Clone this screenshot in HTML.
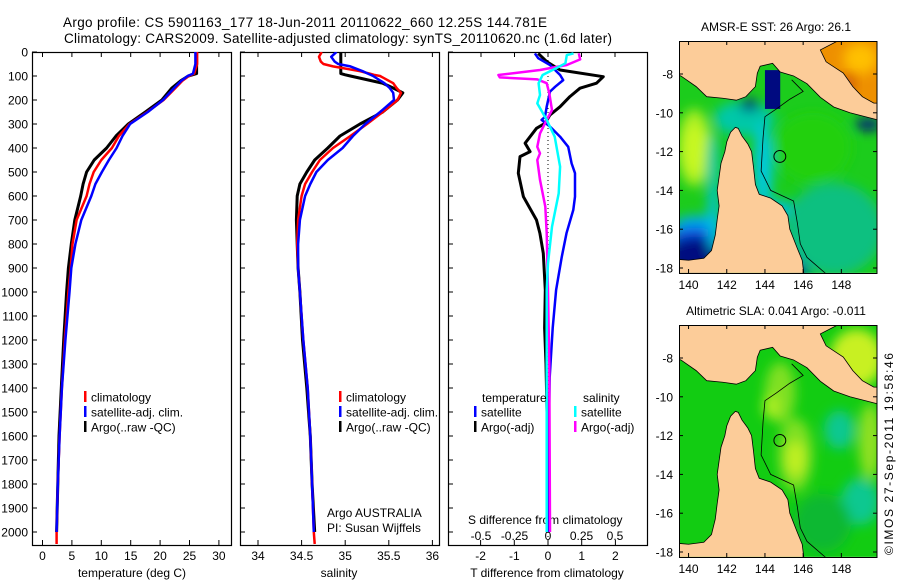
<!DOCTYPE html>
<html><head><meta charset="utf-8">
<style>
html,body{margin:0;padding:0;background:#fff;}
svg{display:block;font-family:"Liberation Sans",sans-serif;}
text{font-size:12px;fill:#000;}
</style></head>
<body>
<svg id="fig" width="900" height="580" viewBox="0 0 900 580" xmlns="http://www.w3.org/2000/svg">
<defs>
  <filter id="blur" x="-50%" y="-50%" width="200%" height="200%"><feGaussianBlur stdDeviation="0.3"/></filter>
  <clipPath id="mapclip" clipPathUnits="userSpaceOnUse"><rect x="139.5" y="-18.25" width="10.37" height="11.95"/></clipPath>
  <clipPath id="p1clip"><rect x="32" y="52" width="199" height="493"/></clipPath>
  <clipPath id="p2clip"><rect x="240" y="52" width="199" height="493"/></clipPath>
  <clipPath id="p3clip"><rect x="448" y="52" width="200" height="493"/></clipPath>
</defs>
<rect width="900" height="580" fill="#fff"/>
<text x="63" y="27" textLength="484" style="font-size:13.5px">Argo profile: CS 5901163_177 18-Jun-2011 20110622_660 12.25S 144.781E</text>
<text x="64" y="43" textLength="548" style="font-size:13.5px">Climatology: CARS2009. Satellite-adjusted climatology: synTS_20110620.nc (1.6d later)</text>

<g id="panels"></g>
<g id="maps"></g>
<text transform="translate(893,555) rotate(-90)" textLength="202">©IMOS 27-Sep-2011 19:58:46</text>
</svg>
<script>
// ---- profile data ----
const tDepth = [0,50,90,100,120,150,200,250,300,350,400,450,500,550,600,700,800,900,1000,1200,1400,1600,1800,2000,2050];
const tClim  = [26.3,26.3,25.8,24.9,23.8,22.6,20.6,17.8,14.8,13.0,11.8,10.0,8.7,8.0,7.5,5.8,5.1,4.8,4.4,3.8,3.3,2.9,2.6,2.4,2.4];
const tSat   = [26.0,26.0,25.6,24.7,23.6,22.4,20.5,17.9,14.9,13.6,12.6,11.3,10.1,9.0,8.3,6.6,5.6,4.9,4.6,3.9,3.3,2.9,2.6,2.4,null];
const tArgo  = [26.2,26.2,26.2,24.8,23.5,22.0,20.3,17.5,14.6,12.5,10.9,8.8,7.5,6.9,6.5,5.5,4.9,4.4,4.1,3.6,3.2,2.8,2.6,2.4,null];

const sDepth = [0,20,40,50,60,80,90,95,100,130,150,170,200,250,300,350,400,450,500,550,600,700,800,900,1000,1200,1400,1600,1800,2000,2050];
const sClim  = [34.73,34.70,34.72,34.75,34.86,35.17,35.28,35.33,35.40,35.55,35.59,35.64,35.60,35.43,35.25,35.06,34.86,34.71,34.62,34.54,34.50,34.46,34.45,34.46,34.48,34.52,34.57,34.60,34.62,34.64,34.65];
const sSat   = [34.90,34.84,34.88,34.92,35.06,35.20,35.26,35.29,35.32,35.45,35.51,35.55,35.56,35.40,35.23,35.09,34.97,34.80,34.67,34.60,34.54,34.48,34.46,34.46,34.48,34.52,34.57,34.60,34.62,34.64,null];
const sArgo  = [34.95,34.95,34.95,34.95,34.95,34.95,34.95,35.00,35.06,35.43,35.55,35.66,35.60,35.43,35.17,34.94,34.80,34.65,34.56,34.48,34.45,34.44,34.45,34.46,34.48,34.51,34.56,34.60,34.62,34.65,null];

const dtArgoDepth = [6,40,75,103,130,151,186,228,262,297,318,380,415,436,505,603,700,755,839,992,1150,1300,1500,1800,2000];
const dtArgo      = [-0.29,-0.04,0.36,1.64,1.44,0.95,0.65,0.36,0.06,-0.09,-0.34,-0.68,-0.53,-0.83,-0.88,-0.73,-0.34,-0.24,-0.14,-0.08,-0.1,-0.06,-0.03,-0.02,-0.02];
const dtSatDepth  = [6,26,54,96,117,145,165,228,270,283,311,353,395,464,505,603,658,755,853,936,992,1150,1354,1600,2000];
const dtSat       = [-0.39,-0.29,0.06,0.36,0.45,0.21,0.06,-0.04,-0.09,-0.19,0.06,0.36,0.6,0.7,0.8,0.8,0.75,0.55,0.41,0.31,0.24,0.14,0.05,0.02,0.02];
const dsArgoDepth = [6,31,54,75,96,106,114,130,172,242,283,339,395,422,450,533,644,755,992,1300,2000];
const dsArgo      = [0.23,0.24,0.14,-0.06,-0.37,-0.36,-0.08,-0.01,0.01,0.03,-0.01,-0.06,-0.08,-0.06,-0.08,-0.06,-0.02,-0.01,0.0,0.01,0.015];
const dsSatDepth  = [6,13,47,68,96,130,179,214,283,353,478,589,728,880,992,1300,2000];
const dsSat       = [0.19,0.14,0.13,0.06,-0.04,-0.07,-0.06,-0.08,-0.01,0.05,0.09,0.08,0.03,0.0,-0.01,-0.01,-0.01];

const depthTicks = [0,100,200,300,400,500,600,700,800,900,1000,1100,1200,1300,1400,1500,1600,1700,1800,1900,2000];
const tTicks = [0,5,10,15,20,25,30];
const sTicks = [34,34.5,35,35.5,36];
const sTickLabels = ["34","34.5","35","35.5","36"];
const tdTicks = [-2,-1,0,1,2];
const sdTicks = [-0.5,-0.25,0,0.25,0.5];
const sdTickLabels = ["-0.5","-0.25","0","0.25","0.5"];

// axis functions
const yD  = d => 52 + d*0.24;
const xT  = t => 42.5 + t*5.88;
const xS  = s => 258 + (s-34)*87.2;
const xTd = v => 548 + v*33.7;
const xSd = v => 548 + v*134;

const NS = "http://www.w3.org/2000/svg";
function mk(tag, attrs, parent){const e=document.createElementNS(NS,tag);for(const k in attrs)e.setAttribute(k,attrs[k]);parent.appendChild(e);return e;}
function txt(parent,x,y,s,anchor,size){const e=mk('text',{x:x,y:y,'text-anchor':anchor||'start'},parent);if(size)e.style.fontSize=size+'px';e.textContent=s;return e;}
const panels=document.getElementById('panels');

function line(parent, depths, vals, xf, color, w, name, clip){
  let d='';let started=false;
  for(let i=0;i<depths.length;i++){ if(vals[i]===null) continue;
    d+=(started?'L':'M')+xf(vals[i]).toFixed(1)+' '+yD(depths[i]).toFixed(1)+' '; started=true;}
  const p=mk('path',{d:d,fill:'none',stroke:color,'stroke-width':w,'stroke-linejoin':'round','clip-path':'url(#'+clip+')'},parent);
  
  
}
function frame(x0,x1,name){
  const r=mk('rect',{x:x0+0.5,y:52.5,width:x1-x0,height:493,fill:'none',stroke:'#000','stroke-width':1.2},panels);
  
  
}
frame(32,231,'temperature-panel-frame');
frame(240,439,'salinity-panel-frame');
frame(448,647,'difference-panel-frame');

depthTicks.forEach(d=>{
  const y=yD(d);
  [32,240,448].forEach(x0=>mk('line',{x1:x0,y1:y,x2:x0+5,y2:y,stroke:'#000'},panels));
  const t=txt(panels,28,y+4.5,String(d),'end');
  
  
});
tTicks.forEach(v=>{const x=xT(v);mk('line',{x1:x,y1:545,x2:x,y2:540,stroke:'#000'},panels);mk('line',{x1:x,y1:52,x2:x,y2:57,stroke:'#000'},panels);
  const t=txt(panels,x,560,String(v),'middle');});
sTicks.forEach((v,i)=>{const x=xS(v);mk('line',{x1:x,y1:545,x2:x,y2:540,stroke:'#000'},panels);mk('line',{x1:x,y1:52,x2:x,y2:57,stroke:'#000'},panels);
  const t=txt(panels,x,560,sTickLabels[i],'middle');});
tdTicks.forEach(v=>{const x=xTd(v);mk('line',{x1:x,y1:545,x2:x,y2:540,stroke:'#000'},panels);
  const t=txt(panels,x,560,String(v),'middle');});
sdTicks.forEach((v,i)=>{const x=xSd(v);mk('line',{x1:x,y1:52,x2:x,y2:57,stroke:'#000'},panels);
  const t=txt(panels,x,540,sdTickLabels[i],'middle');});

let at;
at=txt(panels,132,577,'temperature (deg C)','middle');
at=txt(panels,339,577,'salinity','middle');
at=txt(panels,547,577,'T difference from climatology','middle');
at=txt(panels,468,524,'S difference from climatology','start');

const zl=mk('line',{x1:548,y1:52,x2:548,y2:545,stroke:'#000','stroke-dasharray':'1,3'},panels);



line(panels,tDepth,tArgo,xT,'#000',3,'temperature-argo-line','p1clip');
line(panels,tDepth,tClim,xT,'#f00',2.5,'temperature-climatology-line','p1clip');
line(panels,tDepth,tSat,xT,'#00f',2.5,'temperature-satellite-line','p1clip');
line(panels,sDepth,sArgo,xS,'#000',3,'salinity-argo-line','p2clip');
line(panels,sDepth,sClim,xS,'#f00',2.5,'salinity-climatology-line','p2clip');
line(panels,sDepth,sSat,xS,'#00f',2.5,'salinity-satellite-line','p2clip');
line(panels,dtArgoDepth,dtArgo,xTd,'#000',3,'t-diff-argo-line','p3clip');
line(panels,dtSatDepth,dtSat,xTd,'#00f',2.5,'t-diff-satellite-line','p3clip');
line(panels,dsArgoDepth,dsArgo,xSd,'#f0f',2.5,'s-diff-argo-line','p3clip');
line(panels,dsSatDepth,dsSat,xSd,'#0ff',2.5,'s-diff-satellite-line','p3clip');

function legend(x,y,color,label,name){
  const g=mk('g',{},panels);
  
  
  mk('rect',{x:x,y:y-6,width:2.5,height:11,fill:color},g);
  txt(g,x+7,y+4.5,label,'start');
}
legend(84,397,'#f00','climatology','legend-climatology');
legend(84,412,'#00f','satellite-adj. clim.','legend-satellite-adj');
legend(84,427,'#000','Argo(..raw -QC)','legend-argo');
legend(339,397,'#f00','climatology','legend-climatology-sal');
legend(339,412,'#00f','satellite-adj. clim.','legend-satellite-adj-sal');
legend(339,427,'#000','Argo(..raw -QC)','legend-argo-sal');
at=txt(panels,482,402,'temperature','start');
at=txt(panels,583,402,'salinity','start');
legend(474,412,'#00f','satellite','legend-t-satellite');
legend(474,427,'#000','Argo(-adj)','legend-t-argo');
legend(574,412,'#0ff','satellite','legend-s-satellite');
legend(574,427,'#f0f','Argo(-adj)','legend-s-argo');
at=txt(panels,327,517,'Argo AUSTRALIA','start');
at=txt(panels,327,532,'PI: Susan Wijffels','start');

// ---- maps ----
const maps=document.getElementById('maps');
const landPts=[[139.4,-17.55],[140.0,-17.6],[140.8,-17.5],[141.2,-17.1],[141.4,-16.3],[141.5,-15.5],[141.6,-14.8],[141.5,-14.0],[141.6,-13.3],[141.7,-12.6],[141.9,-12.0],[142.0,-11.5],[142.2,-11.0],[142.45,-10.75],[142.6,-10.8],[142.8,-11.2],[143.1,-11.6],[143.3,-12.0],[143.4,-12.8],[143.5,-13.7],[143.7,-14.2],[144.3,-14.4],[144.9,-14.8],[145.2,-15.3],[145.3,-16.0],[145.7,-17.0],[145.95,-17.6],[146.05,-18.4],[139.4,-18.4]];
const pngPts=[[139.4,-6.2],[148.0,-6.2],[146.9,-6.76],[147.2,-7.37],[148.1,-7.95],[148.6,-8.65],[149.1,-9.17],[149.7,-9.5],[150,-9.5],[150,-10.35],[149.85,-10.35],[148.45,-10.0],[147.6,-9.7],[146.9,-9.2],[146.2,-8.5],[145.5,-8.1],[144.8,-7.9],[144.4,-7.45],[143.75,-7.6],[143.6,-7.96],[143.5,-8.65],[143.0,-9.17],[142.5,-9.35],[141.8,-9.25],[140.95,-9.17],[140.4,-8.65],[139.6,-8.1],[139.4,-8.05]];
const solomonPts=[[148.0,-6.2],[146.9,-6.76],[147.2,-7.37],[148.1,-7.95],[148.6,-8.65],[149.1,-9.17],[149.7,-9.5],[150,-9.5],[150,-6.2]];
const isoPts=[[145.4,-8.3],[146.0,-8.9],[145.3,-9.3],[144.6,-9.8],[144.0,-10.2],[143.9,-11.3],[143.8,-13.0],[144.3,-14.0],[145.5,-14.55],[145.7,-15.7],[145.85,-16.75],[146.2,-17.45],[147.2,-18.3]];
const pts=a=>a.map(p=>p[0]+','+p[1]).join(' ');

const sstBlobs=[[140.3,-11.8,0.9,2.0,'#a8ee20'],[140.3,-11.9,0.55,1.3,'#c8f820'],[141.3,-13.0,0.35,2.0,'#00c8a0'],
 [140.5,-15.8,1.3,0.5,'#00a8f0'],[140.4,-16.4,1.4,0.5,'#1050e0'],[140.4,-17.4,1.5,1.0,'#000a80'],[141.3,-15.5,0.3,1.7,'#00c0e0'],
 [142.9,-10.3,1.6,0.9,'#00c8a8'],[143.2,-9.6,0.5,0.3,'#000a80'],[143.9,-12.8,0.5,2.3,'#00c8e0'],[144.6,-15.0,0.9,0.5,'#00c0e0'],
 [145.4,-16.4,0.4,1.6,'#0040d0'],[145.9,-17.9,0.5,0.6,'#0020a0'],[147.6,-16.0,2.6,2.4,'#10c080'],[149.4,-10.6,0.7,0.3,'#000a80'],
 [146.5,-11.8,2.0,1.8,'#22d010'],[148.9,-7.3,1.1,0.9,'#ffc000'],[149.6,-9.0,0.3,0.4,'#d8f020']];
const slaBlobs=[[145.6,-13.0,0.9,1.9,'#80e020'],[145.6,-13.2,0.5,0.9,'#c0f020'],[144.8,-9.8,0.8,1.6,'#80e020'],[144.3,-10.5,0.4,0.6,'#b0f020'],
 [147.9,-11.7,0.8,1.0,'#10c890'],[149.0,-15.4,1.0,1.2,'#10c890'],[148.8,-8.0,1.4,1.5,'#c8f020'],[149.5,-12.3,0.6,2.0,'#90e020'],
 [147.0,-16.5,1.5,1.5,'#10b830']];

function drawMap(yOff, base, blobs, extra, title, titleY, name, latY0){
  const g=mk('g',{},maps);
  
  
  const inner=mk('g',{transform:'matrix(19.1 0 0 -19.4 -1985.45 '+yOff+')'},g);
  const cl=mk('g',{'clip-path':'url(#mapclip)'},inner);
  mk('rect',{x:139.4,y:-18.5,width:10.7,height:12.5,fill:base},cl);
  const bg=mk('g',{filter:'url(#blur)'},cl);
  blobs.forEach(b=>mk('ellipse',{cx:b[0],cy:b[1],rx:b[2],ry:b[3],fill:b[4]},bg));
  extra(cl);
  const land=mk('polygon',{points:pts(landPts),fill:'#fccc99',stroke:'#000','stroke-width':0.8,'vector-effect':'non-scaling-stroke'},cl);
  
  
  const png=mk('polygon',{points:pts(pngPts),fill:'#fccc99',stroke:'#000','stroke-width':0.8,'vector-effect':'non-scaling-stroke'},cl);
  
  
  const iso=mk('polyline',{points:pts(isoPts),fill:'none',stroke:'#000','stroke-width':0.8,'vector-effect':'non-scaling-stroke'},cl);
  
  
  const c=mk('ellipse',{cx:144.78,cy:-12.25,rx:0.31,ry:0.305,fill:'none',stroke:'#000','stroke-width':1,'vector-effect':'non-scaling-stroke'},cl);
  
  
  const top=latY0-33, bot=latY0+199;
  mk('rect',{x:679.5,y:top+0.5,width:197.5,height:bot-top,fill:'none',stroke:'#000','stroke-width':1},g);
  [140,142,144,146,148].forEach(l=>{const x=679+(l-139.5)*19.1;
    mk('line',{x1:x,y1:top,x2:x,y2:top+4,stroke:'#000'},g);mk('line',{x1:x,y1:bot,x2:x,y2:bot-4,stroke:'#000'},g);
    const t=txt(g,x,bot+16,String(l),'middle');});
  [-8,-10,-12,-14,-16,-18].forEach(l=>{const y=latY0+(-8-l)*19.4;
    mk('line',{x1:877,y1:y,x2:873,y2:y,stroke:'#000'},g);mk('line',{x1:679,y1:y,x2:683,y2:y,stroke:'#000'},g);
    const t=txt(g,673,y+4.5,String(l),'end');});
  const tt=txt(g,776,titleY,title,'middle');
  
  
}
drawMap(-81.2,'#1ccc1c',sstBlobs,cl=>{
  mk('polygon',{points:pts(solomonPts),fill:'#ee9000'},cl);
  mk('ellipse',{cx:149.0,cy:-7.2,rx:0.9,ry:0.8,fill:'#ffc000',filter:'url(#blur)'},cl);
  mk('ellipse',{cx:148.3,cy:-8.5,rx:0.4,ry:0.4,fill:'#c85010',filter:'url(#blur)'},cl);
  mk('rect',{x:144.0,y:-9.8,width:0.8,height:2.0,fill:'#000a80'},cl);
},'AMSR-E SST: 26 Argo: 26.1',31,'sst-map',74);
drawMap(202.8,'#12cc12',slaBlobs,cl=>{},'Altimetric SLA: 0.041 Argo: -0.011',315,'sla-map',358);
</script>
</body></html>
